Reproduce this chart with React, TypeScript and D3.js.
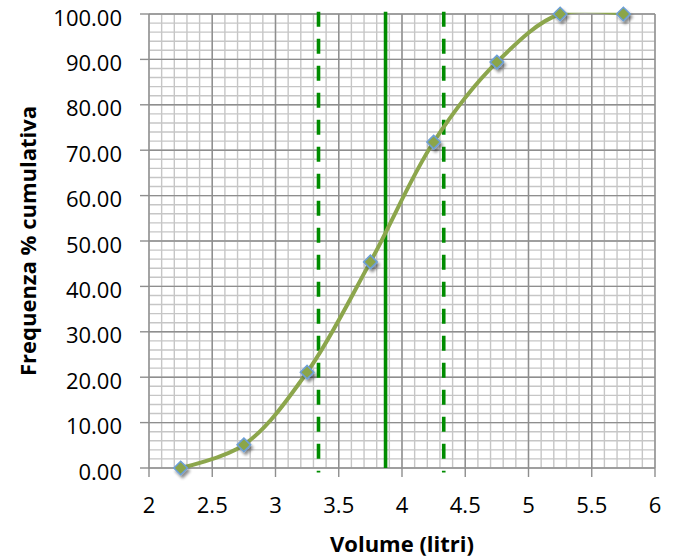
import React from "react";
import * as d3 from "d3";

// ---- data ----
const volumes = [2.25, 2.75, 3.25, 3.75, 4.25, 4.75, 5.25, 5.75];
const cumFreq = [0, 5.1, 21.1, 45.4, 71.8, 89.4, 100, 100];
const meanVolume = 3.87;
const bandLow = 3.34;
const bandHigh = 4.33;
const xTickValues = [2, 2.5, 3, 3.5, 4, 4.5, 5, 5.5, 6];
const yTickValues = [0, 10, 20, 30, 40, 50, 60, 70, 80, 90, 100];
const xTitle = "Volume (litri)";
const yTitle = "Frequenza % cumulativa";

const W = 673;
const H = 560;
const FONT = "'Open Sans', 'Liberation Sans', sans-serif";

export default function App() {
  const x = d3.scaleLinear().domain([2, 6]).range([149, 655]);
  const y = d3.scaleLinear().domain([0, 100]).range([468, 14]);

  const minorX = d3.range(0, 41).map((i) => 2 + i * 0.1);
  const minorY = d3.range(0, 51).map((i) => i * 2);

  const pts: [number, number][] = volumes.map((v, i) => [x(v), y(cumFreq[i])]);
  const line = d3.line().curve(d3.curveCatmullRom.alpha(0.5))(pts) || "";

  const diamond = d3.symbol().type(d3.symbolDiamond2).size(115)() || "";

  const [x0, x1] = x.range();
  const [y0, y1] = y.range();

  return (
    <svg
      width={W}
      height={H}
      style={{ position: "absolute", left: 0, top: 0, background: "#fff" }}
    >
      <defs>
        <clipPath id="plotClip">
          <rect x={x0 - 1} y={y1 - 1.2} width={x1 - x0 + 2} height={y0 - y1 + 3} />
        </clipPath>
        <filter id="shadow" x="-50%" y="-50%" width="200%" height="200%">
          <feGaussianBlur in="SourceAlpha" stdDeviation="1.8" />
          <feOffset dx="1.5" dy="2.5" result="b" />
          <feComponentTransfer>
            <feFuncA type="linear" slope="0.45" />
          </feComponentTransfer>
          <feMerge>
            <feMergeNode />
            <feMergeNode in="SourceGraphic" />
          </feMerge>
        </filter>
      </defs>
      <rect x={0} y={0} width={W} height={H} fill="#fff" />

      {/* minor grid */}
      {minorX.map((v, i) => (
        <line key={"mx" + i} x1={x(v)} x2={x(v)} y1={y1} y2={y0} stroke="#c6c6c6" strokeWidth={1.4} />
      ))}
      {minorY.map((v, i) => (
        <line key={"my" + i} x1={x0} x2={x1} y1={y(v)} y2={y(v)} stroke="#c6c6c6" strokeWidth={1.4} />
      ))}
      {/* major grid */}
      {xTickValues.map((v, i) => (
        <line key={"Mx" + i} x1={x(v)} x2={x(v)} y1={y1} y2={y0} stroke="#8e8e8e" strokeWidth={1.4} />
      ))}
      {yTickValues.map((v, i) => (
        <line key={"My" + i} x1={x0} x2={x1} y1={y(v)} y2={y(v)} stroke="#8e8e8e" strokeWidth={1.4} />
      ))}

      {/* axes ticks */}
      {yTickValues.map((v, i) => (
        <line key={"ty" + i} x1={x0 - 9} x2={x0} y1={y(v)} y2={y(v)} stroke="#8e8e8e" strokeWidth={1.4} />
      ))}
      {xTickValues.map((v, i) => (
        <line key={"tx" + i} x1={x(v)} x2={x(v)} y1={y0} y2={y0 + 9} stroke="#8e8e8e" strokeWidth={1.4} />
      ))}

      {/* reference lines */}
      <line x1={x(bandLow)} x2={x(bandLow)} y1={y(100.5)} y2={y(-1)} stroke="#008c00" strokeWidth={3.6} strokeDasharray="15 12" />
      <line x1={x(bandHigh)} x2={x(bandHigh)} y1={y(100.5)} y2={y(-1)} stroke="#008c00" strokeWidth={3.6} strokeDasharray="15 12" />
      <line x1={x(meanVolume)} x2={x(meanVolume)} y1={y(100.5)} y2={y(0)} stroke="#008c00" strokeWidth={3.6} />

      {/* curve */}
      <g clipPath="url(#plotClip)">
        <path d={line} fill="none" stroke="#8ca64c" strokeWidth={4} strokeLinecap="round" />
      </g>

      {/* markers */}
      {pts.map((p, i) => (
        <path
          key={"m" + i}
          d={diamond}
          transform={`translate(${p[0]},${p[1]})`}
          fill="#8ba548"
          stroke="#6d9fd6"
          strokeWidth={1.6}
          filter="url(#shadow)"
        />
      ))}

      {/* tick labels */}
      {yTickValues.map((v, i) => (
        <text key={"ly" + i} x={122} y={y(v) + 11.5} textAnchor="end" fontFamily={FONT} fontSize={22} fill="#000">
          {d3.format(".2f")(v)}
        </text>
      ))}
      {xTickValues.map((v, i) => (
        <text key={"lx" + i} x={x(v)} y={513} textAnchor="middle" fontFamily={FONT} fontSize={22} fill="#000">
          {String(v)}
        </text>
      ))}

      {/* titles */}
      <text x={(x0 + x1) / 2} y={552} textAnchor="middle" fontFamily={FONT} fontSize={22} fontWeight="bold" fill="#000">
        {xTitle}
      </text>
      <text
        transform={`translate(36,${(y0 + y1) / 2}) rotate(-90)`}
        textAnchor="middle"
        fontFamily={FONT}
        fontSize={22}
        fontWeight="bold"
        fill="#000"
      >
        {yTitle}
      </text>
    </svg>
  );
}
